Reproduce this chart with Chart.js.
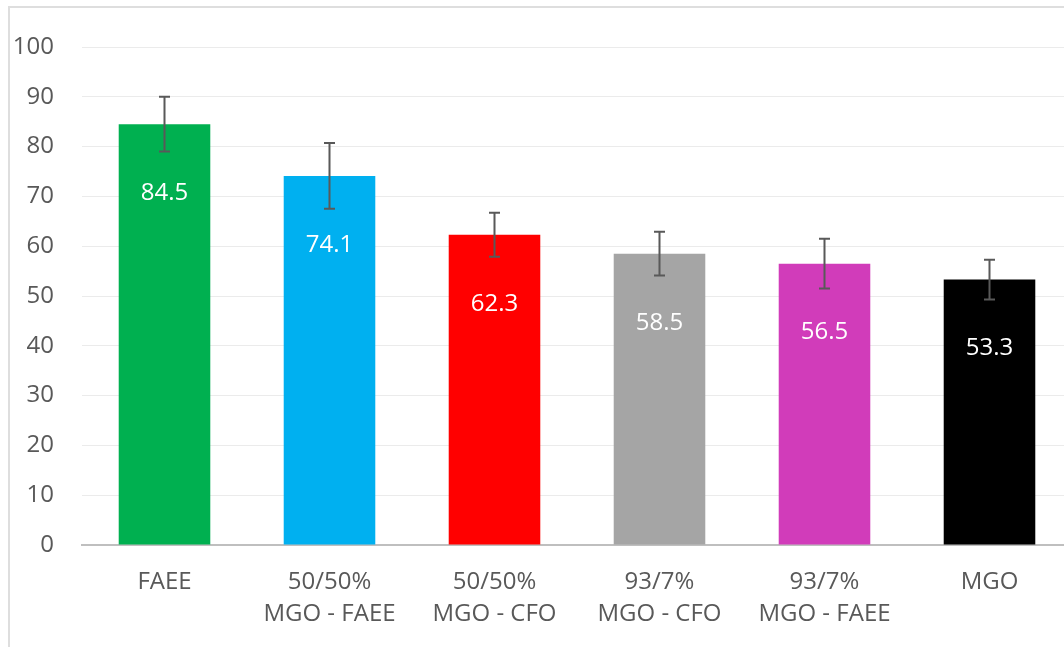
<!DOCTYPE html>
<html>
<head>
<meta charset="utf-8">
<script src="https://cdn.jsdelivr.net/npm/chart.js@4/dist/chart.umd.min.js"></script>
<style>
  html, body { margin: 0; padding: 0; background: #fff; overflow: hidden; }
  #wrap { position: relative; width: 1064px; height: 647px; overflow: hidden; }
  #frame { position: absolute; left: 8px; top: 6px; width: 2000px; height: 2000px;
           border: 2px solid #dedede; box-sizing: border-box; }
  #box { position: absolute; left: 0; top: 0; width: 1100px; height: 647px; }
</style>
</head>
<body>
<div id="wrap">
  <div id="frame"></div>
  <div id="box"><canvas id="c" width="1100" height="647"></canvas></div>
</div>
<script>
// Fuel blends and their mean values with ± error
const categories = [
  ['FAEE'],
  ['50/50%', 'MGO - FAEE'],
  ['50/50%', 'MGO - CFO'],
  ['93/7%', 'MGO - CFO'],
  ['93/7%', 'MGO - FAEE'],
  ['MGO']
];
const values = [84.5, 74.1, 62.3, 58.5, 56.5, 53.3];
const errors = [5.5, 6.6, 4.4, 4.4, 5.0, 4.0];
const yTicks = [0, 10, 20, 30, 40, 50, 60, 70, 80, 90, 100];

const barColors = ['#00B050', '#00B0F0', '#FF0000', '#A5A5A5', '#D13CBA', '#000000'];
const FONT = '"Open Sans", "Noto Sans", sans-serif';

// Error bars with caps, drawn over each bar
const errorBars = {
  id: 'errorBars',
  afterDatasetsDraw(chart) {
    const ctx = chart.ctx;
    const meta = chart.getDatasetMeta(0);
    const y = chart.scales.y;
    ctx.save();
    ctx.strokeStyle = '#595959';
    ctx.lineWidth = 2;
    meta.data.forEach((bar, i) => {
      const v = values[i], e = errors[i];
      const top = y.getPixelForValue(v + e);
      const bot = y.getPixelForValue(v - e);
      const x = bar.x;
      ctx.beginPath();
      ctx.moveTo(x, top); ctx.lineTo(x, bot);
      ctx.moveTo(x - 5.5, top); ctx.lineTo(x + 5.5, top);
      ctx.moveTo(x - 5.5, bot); ctx.lineTo(x + 5.5, bot);
      ctx.stroke();
    });
    ctx.restore();
  }
};

// Value labels inside each bar
const valueLabels = {
  id: 'valueLabels',
  afterDatasetsDraw(chart) {
    const ctx = chart.ctx;
    const meta = chart.getDatasetMeta(0);
    ctx.save();
    ctx.fillStyle = '#ffffff';
    ctx.font = '24px ' + FONT;
    ctx.textAlign = 'center';
    ctx.textBaseline = 'middle';
    meta.data.forEach((bar, i) => {
      ctx.fillText(values[i].toFixed(1), bar.x, bar.y + 69);
    });
    ctx.restore();
  }
};

new Chart(document.getElementById('c'), {
  type: 'bar',
  data: {
    labels: categories,
    datasets: [{
      data: values,
      backgroundColor: barColors,
      borderWidth: 0,
      categoryPercentage: 1,
      barPercentage: 0.555
    }]
  },
  options: {
    responsive: false,
    animation: false,
    devicePixelRatio: 1,
    layout: { padding: { left: 0, right: 28, top: 47, bottom: 0 } },
    plugins: {
      legend: { display: false },
      tooltip: { enabled: false },
      title: { display: false }
    },
    scales: {
      x: {
        grid: { display: false, drawTicks: false },
        border: { display: true, color: '#bfbfbf', width: 2 },
        ticks: {
          color: '#595959',
          font: { family: FONT, size: 24, lineHeight: 1.3 },
          padding: 22,
          maxRotation: 0,
          autoSkip: false
        },
        afterFit(scale) { scale.height = 102; }
      },
      y: {
        min: 0,
        max: 100,
        afterBuildTicks(scale) { scale.ticks = yTicks.map(v => ({ value: v })); },
        grid: { color: '#ebebeb', lineWidth: 1, drawTicks: false },
        border: { display: false },
        ticks: {
          color: '#595959',
          font: { family: FONT, size: 24 },
          padding: 28
        },
        afterFit(scale) { scale.width = 82; }
      }
    }
  },
  plugins: [errorBars, valueLabels]
});
</script>
</body>
</html>
